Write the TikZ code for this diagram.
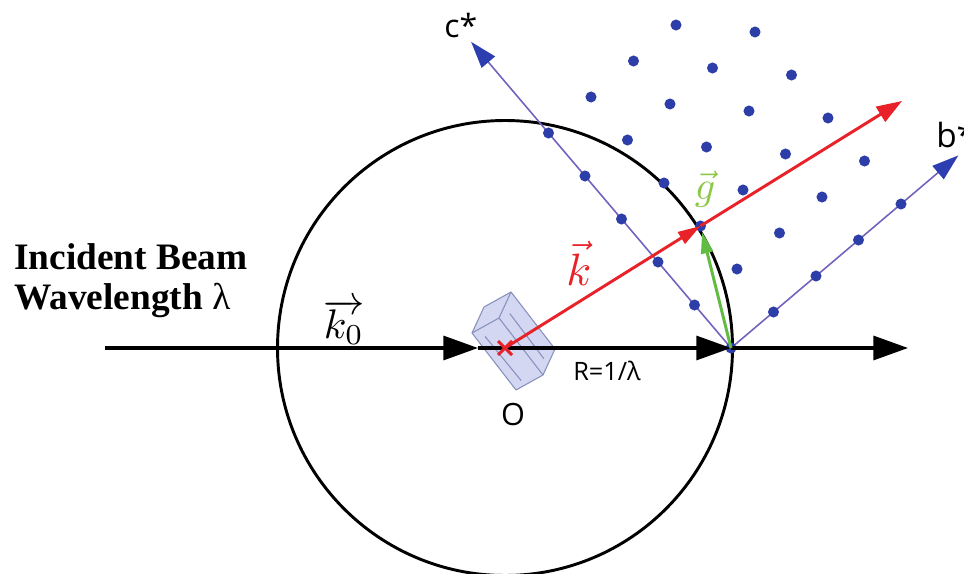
\documentclass[tikz,border=0pt]{standalone}
\usepackage{fontspec}
\usepackage{graphicx}
\setmainfont{Liberation Serif}
\setsansfont{Open Sans}
\usetikzlibrary{arrows.meta,calc}

\definecolor{axisviolet}{RGB}{116,98,190}
\definecolor{tipblue}{RGB}{44,62,176}
\definecolor{dotblue}{RGB}{46,62,168}
\definecolor{beamred}{RGB}{232,34,40}
\definecolor{ggreen}{RGB}{96,188,66}
\definecolor{glabel}{RGB}{140,200,70}
\definecolor{crysfill}{RGB}{196,202,236}
\definecolor{crysedge}{RGB}{136,144,190}

\tikzset{
  beam/.style={line width=2.4pt, black},
  bigtip/.style={-{Triangle[length=26pt,width=18pt]}},
  sphere/.style={line width=2.2pt, black},
  recip/.style={line width=1.2pt, axisviolet, -{Triangle[length=20pt,width=13pt,color=tipblue]}},
  latdot/.style={circle, fill=dotblue, inner sep=0pt, minimum size=8.3pt},
  kvec/.style={line width=2.2pt, beamred},
  gvec/.style={line width=2.2pt, ggreen, -{Triangle[length=16pt,width=9pt]}},
  crystal/.style={fill=crysfill, fill opacity=0.75, draw=crysedge, line width=0.8pt, line join=round},
  sanslabel/.style={font=\sffamily\fontsize{#1}{#1}\selectfont, inner sep=0pt}
}

\begin{document}
\begin{tikzpicture}[x=0.75pt, y=-0.75pt]
\useasboundingbox (0,0) rectangle (964,574);

% key points
\coordinate (O) at (505,348);    % crystal / sphere centre
\coordinate (L) at (731,348);    % origin of the reciprocal lattice
\coordinate (S) at (105,348);    % start of the incident beam
\coordinate (A) at (478,348);    % first arrow on the beam
\coordinate (E) at (908,348);    % end of the transmitted beam
\coordinate (bv) at (42.5,-36);  % step along b*
\coordinate (cv) at (-36.5,-43); % step along c*
\coordinate (G) at ($(L)+(bv)+2*(cv)$);
\coordinate (Kend) at (902,101);

% Ewald sphere
\draw[sphere] (O) circle [radius=227.5];

% crystal at the centre
\coordinate (T1) at (472,333);
\coordinate (T2) at (484,307);
\coordinate (T3) at (511,292);
\coordinate (T4) at (499,318);
\coordinate (dv) at (44,57);
\draw[crystal] (T1) -- (T2) -- (T3) -- ($(T3)+(dv)$) -- ($(T4)+(dv)$) -- ($(T1)+(dv)$) -- cycle;
\draw[crystal, fill=none] (T1) -- (T4) -- (T3) (T4) -- ($(T4)+(dv)$);
\draw[crystal, fill=none] ($(T1)!0.3!(T4)+(5,8)$) -- ($(T1)!0.3!(T4)+(dv)-(3,5)$);
\draw[crystal, fill=none] ($(T4)!0.4!(T3)+(6,6)$) -- ($(T4)!0.4!(T3)+(dv)-(4,6)$);

% reciprocal axes
\draw[recip] (L) -- ($(L)+7.12*(cv)$) coordinate (Ctip);
\draw[recip] (L) -- ($(L)+5.35*(bv)$) coordinate (Btip);

% reciprocal lattice points
\node[latdot] at (L) {};
\foreach \i/\j in {0/1,0/2,0/3,0/4,0/5,1/0,2/0,3/0,4/0,
                   1/1,1/2,1/3,1/4,1/5,2/1,2/2,2/3,2/4,2/5,
                   3/1,3/2,3/3,3/4,3/5,4/1,4/2,4/3,4/4}
  \node[latdot] at ($(L)+\i*(bv)+\j*(cv)$) {};

% incident and transmitted beam
\draw[beam, bigtip] (S) -- (A);
\draw[beam, bigtip] (A) -- (L);
\draw[beam, bigtip] (L) -- (E);

% scattered wave vector
\draw[kvec, -{Triangle[length=17pt,width=10pt]}] (O) -- (G);
\draw[kvec, -{Triangle[length=19pt,width=13pt]}] (G) -- (Kend);

% scattering vector
\draw[gvec] (L) -- ($(G)!0.05!(L)$);

% centre mark
\draw[beamred, line width=2.2pt] ($(O)+(-7,-7)$) -- ($(O)+(7,7)$) ($(O)+(-7,7)$) -- ($(O)+(7,-7)$);

% labels
\node[anchor=base west, inner sep=0pt, font=\bfseries\fontsize{28}{30}\selectfont] (t1) at (14,269) {Incident Beam};
\node[anchor=base west, inner sep=0pt, font=\bfseries\fontsize{28}{30}\selectfont] (t2) at (14,309) {Wavelength {\mdseries λ}};
\node[inner sep=0pt] (k0) at (344,322) {\scalebox{3.1}{$\overrightarrow{k_0}$}};
\node[inner sep=0pt, text=beamred] (kl) at (579,263) {\scalebox{3.4}{$\vec{k}$}};
\node[inner sep=0pt, text=glabel] (gl) at (705,189) {\scalebox{3.0}{$\vec{g}$}};
\node[sanslabel=24, anchor=base west] (cl) at (444,38) {c*};
\node[sanslabel=25, anchor=base west] (bl) at (936,148) {b*};
\node[sanslabel=23, anchor=base] (ol) at (513,425) {O};
\node[sanslabel=19, anchor=base west] (rl) at (573,380) {R=1/λ};
\end{tikzpicture}
\end{document}
